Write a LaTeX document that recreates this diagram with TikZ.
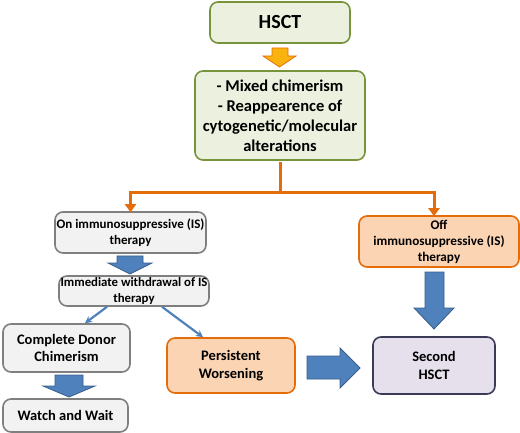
\documentclass[tikz,border=0pt]{standalone}
\usepackage{fontspec}
\setmainfont{Carlito}
\usetikzlibrary{arrows.meta}
\definecolor{grfill}{HTML}{EBF1DE}
\definecolor{grline}{HTML}{77933C}
\definecolor{gyfill}{HTML}{F2F2F2}
\definecolor{gyline}{HTML}{7F7F7F}
\definecolor{orfill}{HTML}{FBD4B4}
\definecolor{orline}{HTML}{E46C0A}
\definecolor{lvfill}{HTML}{E6E0EC}
\definecolor{lvline}{HTML}{3B3B58}
\definecolor{bluef}{HTML}{4F81BD}
\definecolor{bluel}{HTML}{385D8A}
\definecolor{yelf}{HTML}{F9B30F}
\begin{document}
\begin{tikzpicture}[x=1pt,y=-1pt,
  box/.style={rounded corners=8pt,line width=1.6pt,inner sep=0pt,align=center,font=\bfseries},
  grbox/.style={box,draw=grline,fill=grfill},
  gybox/.style={box,draw=gyline,fill=gyfill},
  orbox/.style={box,draw=orline,fill=orfill},
  lvbox/.style={box,draw=lvline,fill=lvfill},
  orconn/.style={draw=orline,line width=3pt},
  blconn/.style={draw=bluef,line width=2.2pt,-{Stealth[length=7pt,width=7pt]}},
  blk/.style={fill=bluef,draw=bluel,line width=0.8pt},
  ]
\useasboundingbox (0,0) rectangle (520,433);
\node[grbox,minimum width=140pt,minimum height=41pt,font=\bfseries\fontsize{20}{24}\selectfont] (hsct) at (280,22.5) {HSCT};
\node[grbox,minimum width=170pt,minimum height=89pt,font=\bfseries\fontsize{16.5}{20}\selectfont] (mix) at (280,115.5) {- Mixed chimerism\\- Reappearence of\\cytogenetic/molecular\\alterations};
\node[gybox,minimum width=151pt,minimum height=41pt,font=\bfseries\fontsize{13}{15.5}\selectfont] (on) at (130.5,232.5) {On immunosuppressive (IS)\\therapy};
\node[gybox,minimum width=150pt,minimum height=30pt,font=\bfseries\fontsize{12.8}{16}\selectfont] (imm) at (134,291) {Immediate withdrawal of IS\\therapy};
\node[gybox,minimum width=127pt,minimum height=48pt,font=\bfseries\fontsize{14.5}{17.5}\selectfont] (comp) at (66.5,348) {Complete Donor\\Chimerism};
\node[gybox,minimum width=125pt,minimum height=33pt,font=\bfseries\fontsize{14.5}{17.5}\selectfont] (watch) at (65.5,415.5) {Watch and Wait};
\node[orbox,minimum width=128pt,minimum height=55pt,font=\bfseries\fontsize{14.5}{17.5}\selectfont] (pers) at (231,365.5) {Persistent\\Worsening};
\node[orbox,minimum width=160pt,minimum height=51pt,font=\bfseries\fontsize{13.2}{16}\selectfont] (off) at (439,241.5) {Off\\immunosuppressive (IS)\\therapy};
\node[lvbox,minimum width=122pt,minimum height=57pt,font=\bfseries\fontsize{14.5}{17.5}\selectfont] (sec) at (434,365.5) {Second\\HSCT};
% orange connectors
\coordinate (j) at (280,193);
\draw[orconn] ([yshift=-0.8pt]mix.south) -- (j);
\draw[orconn,-{Triangle[length=8pt,width=11pt]}] (j) -| ([yshift=-1pt]on.north);
\draw[orconn,-{Triangle[length=8pt,width=11pt]}] (j) -| ([xshift=-5pt,yshift=-1pt]off.north);
% thin blue connectors
\draw[blconn] ([xshift=-27pt]imm.south) -- ([xshift=18.5pt]comp.north);
\draw[blconn] ([xshift=28pt]imm.south) -- ([xshift=-28pt]pers.north);
% block arrows
\draw[fill=yelf,draw=orline,line width=0.8pt] (272,48) -- (288,48) -- (288,56) -- (296,56) -- (279.5,67) -- (263,56) -- (272,56) -- cycle;
\draw[blk] (117,256) -- (143,256) -- (143,263) -- (152,263) -- (130,274) -- (108,263) -- (117,263) -- cycle;
\draw[blk] (55,375) -- (83,375) -- (83,386) -- (95,386) -- (69,397) -- (43,386) -- (55,386) -- cycle;
\draw[blk] (425,272) -- (444,272) -- (444,308) -- (454,308) -- (434,329) -- (414,308) -- (425,308) -- cycle;
\draw[blk] (307,356) -- (340,356) -- (340,348) -- (360,368) -- (340,388) -- (340,379) -- (307,379) -- cycle;
\end{tikzpicture}
\end{document}
